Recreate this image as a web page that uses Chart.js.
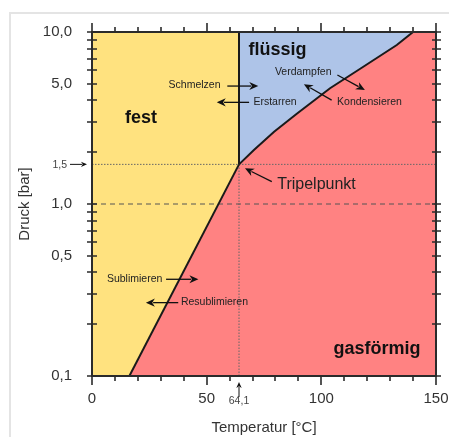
<!DOCTYPE html>
<html><head><meta charset="utf-8">
<script src="https://cdn.jsdelivr.net/npm/chart.js@4.4.1/dist/chart.umd.min.js"></script>
<style>
html,body{margin:0;padding:0;background:#fff;}
#wrap{position:relative;width:449px;height:437px;overflow:hidden;}
#frame{position:absolute;left:9px;top:12px;width:480px;height:480px;border-top:2px solid #e4e4e4;border-left:2px solid #e4e4e4;}
canvas{position:absolute;left:0;top:0;}
</style></head><body>
<div id="wrap"><div id="frame"></div><canvas id="c" width="449" height="437"></canvas></div>
<script>
// ---- data ----
const TRIPLE_T = 64.1;
const TRIPLE_P = 1.7;
const TRIPLE_T_LABEL = '64,1';
const TRIPLE_P_LABEL = '1,5';
const sublT = [16.3, 64.1];
const sublP = [0.1, 1.7];
const vapT = [64.1, 70.6, 79.4, 89.3, 103.8, 118.3, 132.9, 140];
const vapP = [1.7, 2.06, 2.63, 3.35, 4.71, 6.28, 8.4, 10];
const meltT = [64.1, 64.1];
const meltP = [1.7, 10];
const X_MIN = 0, X_MAX = 150;
const Y_MIN = 0.1, Y_MAX = 10;
const xTickValues = [0,10,20,30,40,50,60,70,80,90,100,110,120,130,140,150];
const xLabelValues = [0, 50, 100, 150];
const xLabelTexts = ['0', '50', '100', '150'];
const yTickValues = [0.1,0.2,0.3,0.4,0.5,0.6,0.7,0.8,0.9,1,2,3,4,5,6,7,8,9,10];
const yLabelValues = [0.1, 0.5, 1, 5, 10];
const yLabelTexts = ['0,1', '0,5', '1,0', '5,0', '10,0'];
const regionNames = ['fest', 'flüssig', 'gasförmig'];
const regionT = [21.4, 80.9, 124.3];
const regionP = [2.94, 7.35, 0.134];
const processNames = ['Schmelzen','Erstarren','Verdampfen','Kondensieren','Sublimieren','Resublimieren','Tripelpunkt'];
const processT = [44.7, 79.8, 92.1, 121.0, 18.6, 53.4, 97.9];
const processP = [4.71, 3.75, 5.6, 3.75, 0.353, 0.259, 1.222];
const arrowFromT = [59.0, 68.5, 107.0, 104.5, 32.3, 37.6, 78.4];
const arrowFromP = [4.85, 3.9, 5.62, 4.02, 0.365, 0.267, 1.35];
const arrowToT   = [72.5, 54.4, 119.0, 92.4, 46.4, 23.5, 66.7];
const arrowToP   = [4.85, 3.9, 4.60, 4.97, 0.365, 0.267, 1.613];

const FONT = '"Liberation Sans", Arial, Helvetica, sans-serif';
const C_SOLID = '#FFE27F', C_LIQ = '#AEC4E8', C_GAS = '#FF8282';

const pts = (xs, ys) => xs.map((x, i) => ({x, y: ys[i]}));
const gasBoundary = pts(sublT.concat(vapT.slice(1), [X_MAX]), sublP.concat(vapP.slice(1), [Y_MAX]));
const solidBoundary = pts([X_MIN].concat(sublT), [Y_MIN].concat(sublP));

function arrow(ctx, x1, y1, x2, y2, head) {
  const a = Math.atan2(y2 - y1, x2 - x1);
  ctx.beginPath(); ctx.moveTo(x1, y1);
  ctx.lineTo(x2 - Math.cos(a) * head * 0.8, y2 - Math.sin(a) * head * 0.8); ctx.stroke();
  ctx.beginPath(); ctx.moveTo(x2, y2);
  ctx.lineTo(x2 - head * Math.cos(a) + head * 0.45 * Math.sin(a), y2 - head * Math.sin(a) - head * 0.45 * Math.cos(a));
  ctx.lineTo(x2 - head * 0.7 * Math.cos(a), y2 - head * 0.7 * Math.sin(a));
  ctx.lineTo(x2 - head * Math.cos(a) - head * 0.45 * Math.sin(a), y2 - head * Math.sin(a) + head * 0.45 * Math.cos(a));
  ctx.closePath(); ctx.fill();
}

const decor = {
  id: 'decor',
  afterDatasetsDraw(chart) {
    const {ctx, chartArea: a} = chart;
    const xs = chart.scales.x, ys = chart.scales.y;
    ctx.save();
    // frame
    ctx.strokeStyle = '#2b2b2b'; ctx.lineWidth = 2;
    ctx.strokeRect(a.left, a.top, a.right - a.left, a.bottom - a.top);
    // tick marks
    ctx.lineWidth = 1.6;
    xTickValues.forEach(v => {
      const px = Math.round(xs.getPixelForValue(v));
      const len = (v % 50 === 0) ? 9 : 5;
      ctx.beginPath(); ctx.moveTo(px, a.bottom); ctx.lineTo(px, a.bottom + len);
      ctx.moveTo(px, a.top); ctx.lineTo(px, a.top - len); ctx.stroke();
    });
    yTickValues.forEach(v => {
      const py = Math.round(ys.getPixelForValue(v));
      ctx.beginPath(); ctx.moveTo(a.left - 5, py); ctx.lineTo(a.left + 5, py);
      ctx.moveTo(a.right - 4, py); ctx.lineTo(a.right + 5, py); ctx.stroke();
    });
    // region labels
    ctx.fillStyle = '#111'; ctx.textAlign = 'center'; ctx.textBaseline = 'alphabetic';
    ctx.font = 'bold 18px ' + FONT;
    regionNames.forEach((n, i) => ctx.fillText(n, xs.getPixelForValue(regionT[i]), ys.getPixelForValue(regionP[i])));
    // process labels
    processNames.forEach((n, i) => {
      ctx.font = (n === 'Tripelpunkt' ? '16px ' : '10.5px ') + FONT;
      ctx.fillStyle = '#222';
      ctx.fillText(n, xs.getPixelForValue(processT[i]), ys.getPixelForValue(processP[i]));
    });
    ctx.strokeStyle = '#111'; ctx.fillStyle = '#111'; ctx.lineWidth = 1.3;
    arrowFromT.forEach((t, i) => {
      arrow(ctx, xs.getPixelForValue(t), ys.getPixelForValue(arrowFromP[i]),
            xs.getPixelForValue(arrowToT[i]), ys.getPixelForValue(arrowToP[i]), 9);
    });
    // triple point axis markers
    const tpx = xs.getPixelForValue(TRIPLE_T), tpy = ys.getPixelForValue(TRIPLE_P);
    ctx.lineWidth = 1;
    arrow(ctx, a.left - 22, tpy, a.left - 5, tpy, 6);
    arrow(ctx, tpx, a.bottom + 21, tpx, a.bottom + 6, 6);
    ctx.fillStyle = '#444'; ctx.font = '10.5px ' + FONT;
    ctx.textAlign = 'right'; ctx.textBaseline = 'middle';
    ctx.fillText(TRIPLE_P_LABEL, a.left - 25, tpy + 1);
    ctx.textAlign = 'center'; ctx.textBaseline = 'alphabetic';
    ctx.fillText(TRIPLE_T_LABEL, tpx, a.bottom + 28);
    ctx.restore();
  }
};

const lineDs = (data, extra) => Object.assign({data, pointRadius: 0, borderWidth: 0, tension: 0, fill: false}, extra);

new Chart(document.getElementById('c'), {
  type: 'line',
  data: {
    datasets: [
      lineDs(gasBoundary, {fill: 'start', backgroundColor: C_GAS, order: 10}),
      lineDs(solidBoundary, {fill: 'end', backgroundColor: C_SOLID, order: 9}),
      lineDs(pts(vapT, vapP), {fill: 'end', backgroundColor: C_LIQ, order: 8}),
      lineDs(pts([X_MIN, X_MAX], [1, 1]), {borderWidth: 1, borderColor: '#555', borderDash: [5, 4], order: 5}),
      lineDs(pts([X_MIN, X_MAX], [TRIPLE_P, TRIPLE_P]), {borderWidth: 1, borderColor: '#666', borderDash: [1.5, 1.5], order: 5}),
      lineDs(pts([TRIPLE_T, TRIPLE_T], [Y_MIN, TRIPLE_P]), {borderWidth: 1, borderColor: '#666', borderDash: [1.5, 1.5], order: 5}),
      lineDs(pts(sublT, sublP), {borderWidth: 2, borderColor: '#1a1a1a', order: 1}),
      lineDs(pts(vapT, vapP), {borderWidth: 2, borderColor: '#1a1a1a', order: 1}),
      lineDs(pts(meltT, meltP), {borderWidth: 2, borderColor: '#1a1a1a', order: 1})
    ]
  },
  options: {
    responsive: false, animation: false,
    layout: {padding: {top: 32, right: 13, left: 0, bottom: 0}},
    plugins: {legend: {display: false}, tooltip: {enabled: false}},
    scales: {
      x: {
        type: 'linear', min: X_MIN, max: X_MAX,
        grid: {display: false, drawTicks: false}, border: {display: false},
        afterBuildTicks: s => { s.ticks = xLabelValues.map(v => ({value: v})); },
        afterFit: s => { s.height = 61; s.paddingLeft = 0; s.paddingRight = 0; },
        ticks: {padding: 14, color: '#333', font: {family: FONT, size: 15},
                callback: v => xLabelTexts[xLabelValues.indexOf(v)]},
        title: {display: true, text: 'Temperatur [°C]', color: '#333', font: {family: FONT, size: 15}, padding: {top: 0, bottom: 0}}
      },
      y: {
        type: 'logarithmic', min: Y_MIN, max: Y_MAX,
        grid: {display: false, drawTicks: false}, border: {display: false},
        afterBuildTicks: s => { s.ticks = yLabelValues.map(v => ({value: v})); },
        afterFit: s => { s.width = 92; s.paddingTop = 0; s.paddingBottom = 0; },
        ticks: {padding: 20, color: '#333', font: {family: FONT, size: 15},
                callback: (v, i, t) => yLabelTexts[i]},
        title: {display: true, text: 'Druck [bar]', color: '#333', font: {family: FONT, size: 15}, padding: {top: 16, bottom: 0}}
      }
    }
  },
  plugins: [decor]
});
</script>
</body></html>
